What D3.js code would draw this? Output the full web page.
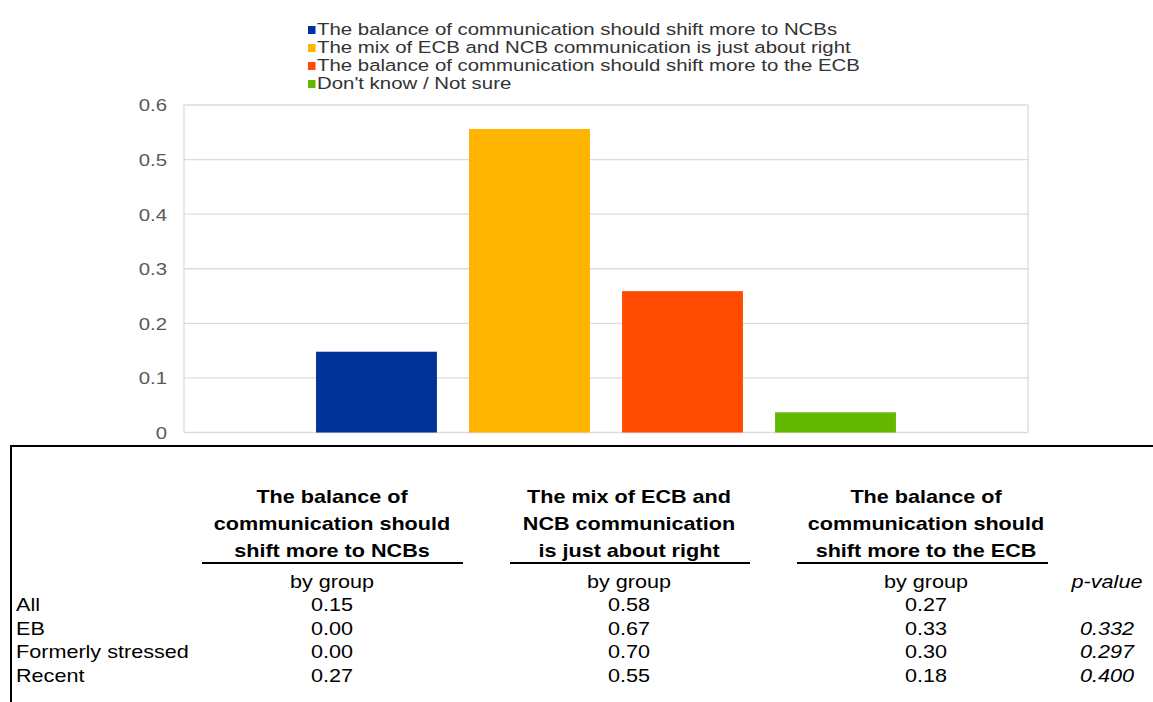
<!DOCTYPE html>
<html>
<head>
<meta charset="utf-8">
<script src="https://cdn.jsdelivr.net/npm/d3@7"></script>
<style>
  html, body { margin: 0; padding: 0; background: #fff; }
  svg { display: block; font-family: "Liberation Sans", Arial, sans-serif; }
</style>
</head>
<body>
<svg id="chart" width="1153" height="702"></svg>
<script>
// ---- data ----
const seriesLabels = [
  "The balance of communication should shift more to NCBs",
  "The mix of ECB and NCB communication is just about right",
  "The balance of communication should shift more to the ECB",
  "Don't know / Not sure"
];
const seriesValues = [0.148, 0.556, 0.259, 0.037];
const seriesColors = ["#003299", "#FFB400", "#FF4B00", "#65B800"];
const yTicks = [0, 0.1, 0.2, 0.3, 0.4, 0.5, 0.6];

const columnHeaders = [
  ["The balance of", "communication should", "shift more to NCBs"],
  ["The mix of ECB and", "NCB communication", "is just about right"],
  ["The balance of", "communication should", "shift more to the ECB"]
];
const subHeader = "by group";
const pHeader = "p-value";
const rowLabels = ["All", "EB", "Formerly stressed", "Recent"];
const shiftNCB = [0.15, 0.00, 0.00, 0.27];
const mixRight = [0.58, 0.67, 0.70, 0.55];
const shiftECB = [0.27, 0.33, 0.30, 0.18];
const pValues = [null, 0.332, 0.297, 0.400];

// ---- layout ----
const SX = 1.2; // horizontal stretch seen in the reference
const svg = d3.select("#chart");
const plot = { left: 184, right: 1028, top: 105, bottom: 432.5 };

const x = d3.scaleBand()
  .domain(seriesLabels)
  .range([plot.left, plot.right])
  .paddingInner(0.21)
  .paddingOuter(0.863);

const y = d3.scaleLinear().domain([0, 0.6]).range([plot.bottom, plot.top]);

function stext(g, px, py, txt, o = {}) {
  return g.append("text")
    .attr("transform", `translate(${px},${py}) scale(${SX},1)`)
    .attr("text-anchor", o.anchor || "start")
    .attr("font-size", o.size || 18)
    .attr("font-weight", o.weight || "normal")
    .attr("font-style", o.style || "normal")
    .attr("fill", o.fill || "#000")
    .text(txt);
}

// gridlines
const grid = svg.append("g");
grid.selectAll("line.h").data(yTicks).join("line")
  .attr("x1", plot.left).attr("x2", plot.right)
  .attr("y1", d => y(d)).attr("y2", d => y(d))
  .attr("stroke", "#dcdcdc").attr("stroke-width", 1.3);
grid.append("line").attr("x1", plot.left).attr("x2", plot.left)
  .attr("y1", y(0.6)).attr("y2", y(0)).attr("stroke", "#dcdcdc").attr("stroke-width", 1.3);
grid.append("line").attr("x1", plot.right).attr("x2", plot.right)
  .attr("y1", y(0.6)).attr("y2", y(0)).attr("stroke", "#dcdcdc").attr("stroke-width", 1.3);

// y axis
const yAxis = d3.axisLeft(y).tickValues(yTicks).tickSize(0)
  .tickFormat(d => d === 0 ? "0" : d3.format(".1f")(d));
const ya = svg.append("g").attr("transform", `translate(${plot.left},0)`).call(yAxis);
ya.select(".domain").remove();
ya.selectAll("text")
  .attr("font-size", 17)
  .attr("font-family", '"Liberation Sans", Arial, sans-serif')
  .attr("fill", "#595959")
  .attr("x", 0).attr("dy", "0.35em")
  .attr("transform", `translate(-17,0) scale(${SX},1)`);

// bars
svg.append("g").selectAll("rect").data(seriesLabels).join("rect")
  .attr("x", d => x(d))
  .attr("width", x.bandwidth())
  .attr("y", (d, i) => y(seriesValues[i]))
  .attr("height", (d, i) => y(0) - y(seriesValues[i]))
  .attr("fill", (d, i) => seriesColors[i]);

// legend
const leg = svg.append("g");
seriesLabels.forEach((lab, i) => {
  const by = 35 + i * 18;
  leg.append("rect").attr("x", 308).attr("y", by - 9).attr("width", 7.5).attr("height", 8)
    .attr("fill", seriesColors[i]);
  stext(leg, 317, by, lab, { size: 17, fill: "#333" });
});

// table frame
const tb = svg.append("g");
tb.append("line").attr("x1", 10).attr("x2", 1153).attr("y1", 446).attr("y2", 446)
  .attr("stroke", "#000").attr("stroke-width", 2);
tb.append("line").attr("x1", 11).attr("x2", 11).attr("y1", 446).attr("y2", 702)
  .attr("stroke", "#000").attr("stroke-width", 2);

const colCenters = [332, 629, 926];
const underlines = [[202, 463], [510, 750], [797, 1048]];
const pCenter = 1107;
const headerBaselines = [503, 530, 557];
columnHeaders.forEach((lines, c) => {
  lines.forEach((ln, j) => stext(tb, colCenters[c], headerBaselines[j], ln,
    { anchor: "middle", weight: "bold" }));
  tb.append("line").attr("x1", underlines[c][0]).attr("x2", underlines[c][1])
    .attr("y1", 563).attr("y2", 563).attr("stroke", "#000").attr("stroke-width", 2);
  stext(tb, colCenters[c], 588, subHeader, { anchor: "middle" });
});
stext(tb, pCenter, 588, pHeader, { anchor: "middle", style: "italic" });

const rowBaselines = [611, 634.5, 658, 681.5];
const cols = [shiftNCB, mixRight, shiftECB];
const f2 = d3.format(".2f"), f3 = d3.format(".3f");
rowLabels.forEach((lab, r) => {
  stext(tb, 16, rowBaselines[r], lab);
  cols.forEach((arr, c) => stext(tb, colCenters[c], rowBaselines[r], f2(arr[r]), { anchor: "middle" }));
  if (pValues[r] !== null) stext(tb, pCenter, rowBaselines[r], f3(pValues[r]), { anchor: "middle", style: "italic" });
});
</script>
</body>
</html>
